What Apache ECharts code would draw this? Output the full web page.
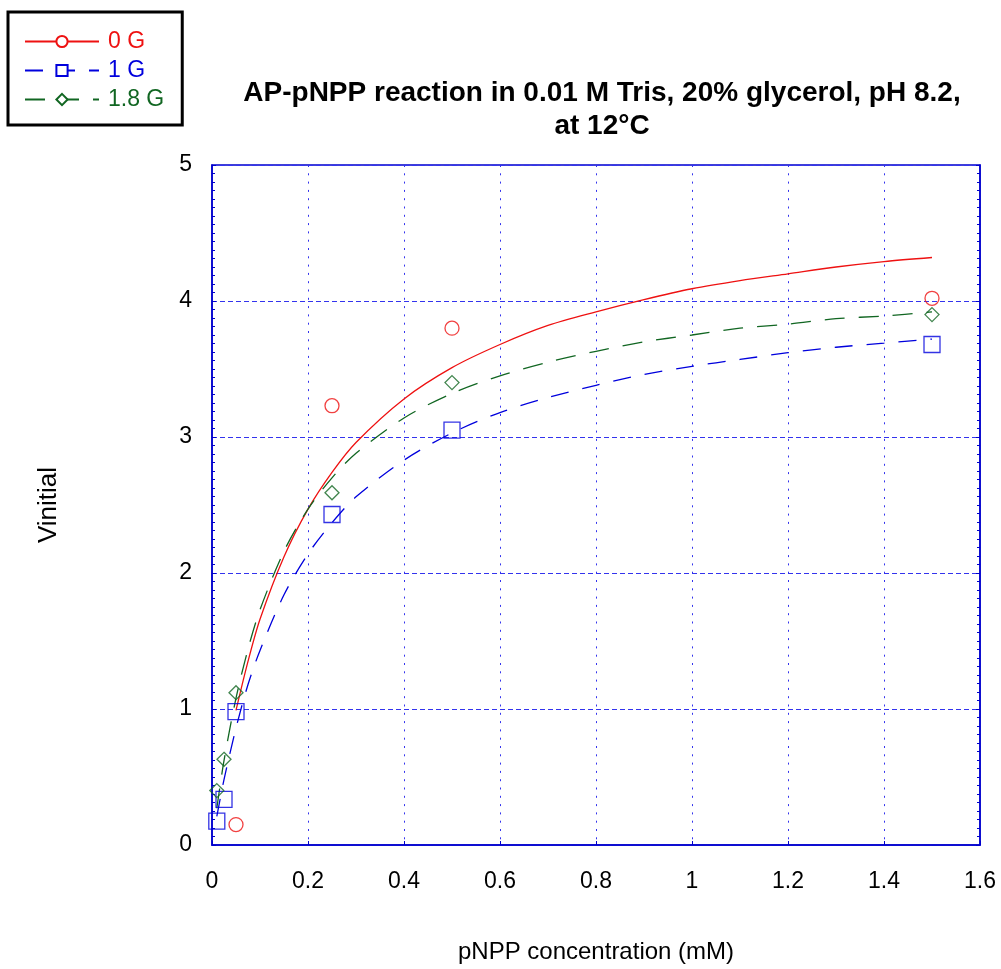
<!DOCTYPE html>
<html>
<head>
<meta charset="utf-8">
<script src="https://cdn.jsdelivr.net/npm/echarts@6/dist/echarts.min.js"></script>
<style>html,body{margin:0;padding:0;background:#fff}#c{width:1001px;height:969px}</style>
</head>
<body>
<div id="c"></div>
<script>
// Measured points
var x0G = [0.05, 0.25, 0.5, 1.5];
var y0G = [0.15, 3.23, 3.80, 4.02];
var x1G = [0.01, 0.025, 0.05, 0.25, 0.5, 1.5];
var y1G = [0.175, 0.335, 0.98, 2.43, 3.05, 3.68];
var x18G = [0.01, 0.025, 0.05, 0.25, 0.5, 1.5];
var y18G = [0.40, 0.63, 1.12, 2.59, 3.40, 3.90];

// Fitted curves
var fitX0G = [0.05, 0.075, 0.1, 0.15, 0.2, 0.25, 0.3, 0.4, 0.5, 0.6, 0.7, 0.8, 0.9, 1.0, 1.1, 1.2, 1.3, 1.4, 1.5];
var fitY0G = [0.99, 1.35, 1.66, 2.12, 2.47, 2.74, 2.96, 3.28, 3.51, 3.68, 3.82, 3.92, 4.01, 4.09, 4.15, 4.20, 4.25, 4.29, 4.32];
var fitX = [0.01, 0.025, 0.05, 0.075, 0.1, 0.15, 0.2, 0.25, 0.3, 0.4, 0.5, 0.6, 0.7, 0.8, 0.9, 1.0, 1.1, 1.2, 1.3, 1.4, 1.5];
var fitY1G = [0.21, 0.48, 0.86, 1.18, 1.43, 1.84, 2.14, 2.37, 2.56, 2.83, 3.03, 3.18, 3.29, 3.38, 3.46, 3.52, 3.57, 3.62, 3.66, 3.69, 3.72];
var fitY18G = [0.27, 0.62, 1.08, 1.44, 1.73, 2.16, 2.47, 2.70, 2.88, 3.14, 3.32, 3.45, 3.55, 3.63, 3.70, 3.75, 3.80, 3.83, 3.87, 3.89, 3.92];

var seriesNames = ['0 G', '1 G', '1.8 G'];
var colors = ['#ee1111', '#0000dd', '#116622'];
var xTicks = ['0', '0.2', '0.4', '0.6', '0.8', '1', '1.2', '1.4', '1.6'];

function zip(a, b) { return a.map(function (v, i) { return [v, b[i]]; }); }

var FONT = '"Liberation Sans", Arial, sans-serif';
var chart = echarts.init(document.getElementById('c'));
var gridColor = '#3333ee';
var axisColor = '#0000cc';

chart.setOption({
  animation: false,
  backgroundColor: '#fff',
  title: {
    text: 'AP-pNPP reaction in 0.01 M Tris, 20% glycerol, pH 8.2,\nat 12°C',
    left: 597, top: 72, textAlign: 'center',
    textStyle: { fontFamily: FONT, fontWeight: 'bold', fontSize: 28, lineHeight: 33, color: '#000' }
  },
  legend: {
    orient: 'vertical', left: 8, top: 12,
    borderColor: '#000', borderWidth: 3,
    padding: [18, 18, 14, 16],
    itemWidth: 74, itemHeight: 14, itemGap: 6,
    textStyle: { fontFamily: FONT, fontSize: 23, padding: [0, 0, 0, 4] },
    data: [
      { name: seriesNames[0], textStyle: { color: colors[0] } },
      { name: seriesNames[1], textStyle: { color: colors[1] } },
      { name: seriesNames[2], textStyle: { color: colors[2] } }
    ]
  },
  grid: { left: 212, right: 21, top: 165, bottom: 118, show: true, borderColor: axisColor, borderWidth: 1.5 },
  xAxis: {
    type: 'value', min: 0, max: 1.6, interval: 0.2,
    name: 'pNPP concentration (mM)', nameLocation: 'middle', nameGap: 95,
    nameTextStyle: { fontFamily: FONT, fontSize: 24, color: '#000' },
    axisLine: { show: true, lineStyle: { color: axisColor, width: 1.5 } },
    axisTick: { show: true, inside: true, length: 4, lineStyle: { color: axisColor } },
    axisLabel: { fontFamily: FONT, fontSize: 23, color: '#000', margin: 25,
      formatter: function (v) { var i = Math.round(v / 0.2); return xTicks[i] !== undefined ? xTicks[i] : ''; } },
    splitLine: { show: true, lineStyle: { color: gridColor, width: 1, type: [2, 6.3] } }
  },
  yAxis: [{
    type: 'value', min: 0, max: 5, interval: 1,
    name: 'Vinitial', nameLocation: 'middle', nameGap: 150, nameRotate: 90,
    nameTextStyle: { fontFamily: FONT, fontSize: 26, color: '#000' },
    axisLine: { show: true, lineStyle: { color: axisColor, width: 1.5 } },
    axisTick: { show: true, inside: true, length: 4, lineStyle: { color: axisColor } },
    minorTick: { show: true, splitNumber: 16, length: 3, lineStyle: { color: axisColor } },
    axisLabel: { fontFamily: FONT, fontSize: 23, color: '#000', margin: 20 },
    splitLine: { show: true, lineStyle: { color: gridColor, width: 1, type: [5, 3] } }
  }, {
    type: 'value', min: 0, max: 5, interval: 1, position: 'right',
    axisLine: { show: true, lineStyle: { color: axisColor, width: 1.5 } },
    axisTick: { show: true, inside: true, length: 4, lineStyle: { color: axisColor } },
    minorTick: { show: true, splitNumber: 16, length: 3, lineStyle: { color: axisColor } },
    axisLabel: { show: false }, splitLine: { show: false }
  }],
  series: [
    { name: seriesNames[0], type: 'line', data: zip(fitX0G, fitY0G), smooth: 0.3,
      symbol: 'emptyCircle', symbolSize: 14, showSymbol: false,
      lineStyle: { color: colors[0], width: 1.3 }, itemStyle: { color: colors[0] }, z: 3 },
    { name: seriesNames[1], type: 'line', data: zip(fitX, fitY1G), smooth: 0.3,
      symbol: 'emptyRect', symbolSize: 15, showSymbol: false,
      lineStyle: { color: colors[1], width: 1.3, type: [18, 14] }, itemStyle: { color: colors[1] }, z: 3 },
    { name: seriesNames[2], type: 'line', data: zip(fitX, fitY18G), smooth: 0.3,
      symbol: 'emptyDiamond', symbolSize: 14, showSymbol: false,
      lineStyle: { color: colors[2], width: 1.3, type: [20, 14] }, itemStyle: { color: colors[2] }, z: 3 },
    { name: seriesNames[0], type: 'scatter', data: zip(x0G, y0G), symbol: 'circle', symbolSize: 14,
      itemStyle: { color: 'rgba(255,255,255,0)', borderColor: colors[0], borderWidth: 1.3 }, z: 4 },
    { name: seriesNames[1], type: 'scatter', data: zip(x1G, y1G), symbol: 'rect', symbolSize: 16,
      itemStyle: { color: 'rgba(255,255,255,0)', borderColor: colors[1], borderWidth: 1.3 }, z: 4 },
    { name: seriesNames[2], type: 'scatter', data: zip(x18G, y18G), symbol: 'diamond', symbolSize: 14,
      itemStyle: { color: 'rgba(255,255,255,0)', borderColor: colors[2], borderWidth: 1.3 }, z: 4 }
  ]
});
</script>
</body>
</html>
